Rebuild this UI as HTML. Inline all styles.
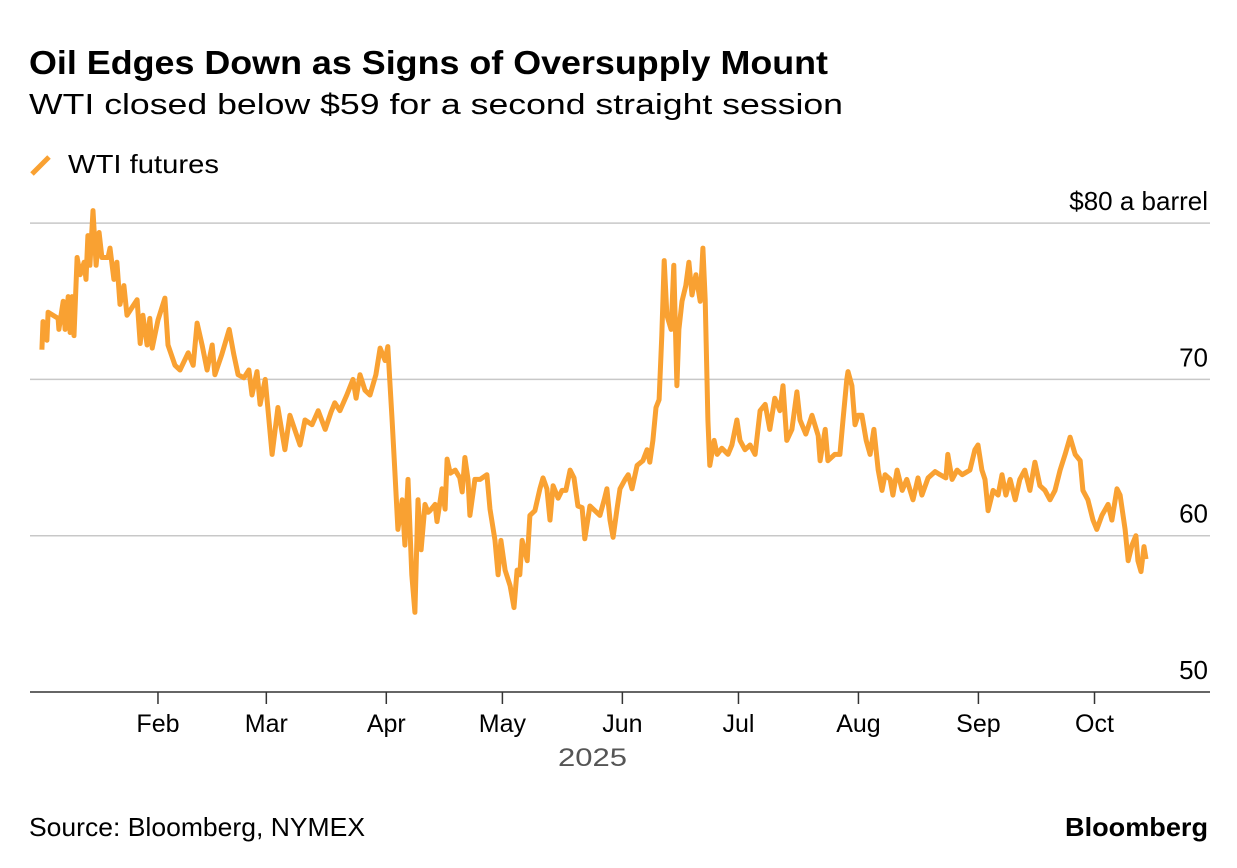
<!DOCTYPE html>
<html><head><meta charset="utf-8"><style>
html,body{margin:0;padding:0;background:#fff;}
svg{display:block;font-family:"Liberation Sans",Arial,sans-serif;}
</style></head><body>
<svg id="chart" width="1237" height="868" viewBox="0 0 1237 868">
<text x="29" y="74" font-size="33" font-weight="bold" fill="#000" textLength="799" lengthAdjust="spacingAndGlyphs">Oil Edges Down as Signs of Oversupply Mount</text>
<text x="29" y="114" font-size="29" fill="#000" textLength="814" lengthAdjust="spacingAndGlyphs">WTI closed below $59 for a second straight session</text>
<g>
<line x1="32" y1="174" x2="49" y2="157" stroke="#F9A132" stroke-width="5"/>
<text x="68" y="173" font-size="26" fill="#000" textLength="151" lengthAdjust="spacingAndGlyphs">WTI futures</text>
</g>
<g id="grid"></g>
<g id="yt"></g>
<g id="xt"></g>
<text x="558" y="766" font-size="25" fill="#555" textLength="69" lengthAdjust="spacingAndGlyphs">2025</text>
<path id="line" fill="none" stroke="#F9A132" stroke-width="5" stroke-linejoin="round"/>
<text x="29" y="836" font-size="26" fill="#000" textLength="336" lengthAdjust="spacingAndGlyphs">Source: Bloomberg, NYMEX</text>
<text x="1065" y="836" font-size="26" font-weight="bold" fill="#000" textLength="143" lengthAdjust="spacingAndGlyphs">Bloomberg</text>
</svg>
<script>
const days=[1.0,1.3,2.3,2.6,5.2,5.4,6.5,7.0,7.8,8.3,8.8,9.3,10.1,10.9,11.9,12.4,12.9,13.4,14.2,15.0,15.8,16.5,18.1,18.6,19.6,20.4,21.2,22.2,23.0,24.3,25.6,26.4,27.1,28.2,28.9,29.5,31.0,32.8,33.6,35.4,36.7,38.8,40.1,41.1,42.4,43.7,45.0,45.7,47.5,49.4,50.6,51.7,53.2,54.5,55.3,56.6,57.4,58.7,60.5,62.0,63.8,65.1,67.7,69.0,70.8,72.4,74.2,75.7,76.7,78.0,79.8,81.4,82.2,83.2,84.5,85.8,87.3,88.4,89.7,90.4,91.5,92.2,93.0,94.1,94.8,95.6,96.6,97.4,98.2,99.0,100.0,100.8,101.3,102.6,103.1,104.4,105.2,105.7,106.5,107.8,109.0,109.6,110.3,111.1,111.6,112.9,114.2,116.0,116.8,118.1,118.9,119.6,120.7,122.0,123.0,123.8,124.5,125.1,126.4,127.1,128.4,129.7,130.5,131.5,132.3,133.1,134.4,135.4,136.4,137.5,138.5,139.5,140.6,141.3,142.6,143.9,145.2,146.3,147.0,147.8,148.6,149.6,150.4,151.7,152.5,153.5,154.8,156.3,157.4,158.1,158.9,159.7,160.5,161.2,161.8,162.5,163.6,164.3,165.1,165.6,166.4,167.4,168.2,169.0,170.0,171.1,171.8,172.4,173.1,173.6,174.7,175.5,176.7,178.3,179.3,180.6,181.4,182.7,184.0,185.3,186.6,187.9,189.1,190.4,191.7,192.5,193.5,194.8,196.1,196.9,198.4,200.0,201.6,202.1,203.4,204.1,205.9,207.2,208.0,209.0,209.3,210.3,211.1,211.9,212.9,214.0,215.0,216.0,217.1,218.1,218.9,220.2,220.9,222.0,223.3,224.5,226.1,227.4,228.4,230.0,231.8,233.1,234.6,235.1,236.2,237.5,238.8,240.8,242.1,242.9,243.9,244.7,245.5,246.8,248.1,249.1,250.1,251.2,252.5,253.7,255.0,256.3,257.6,258.9,260.2,261.5,262.8,264.1,265.4,266.7,268.0,269.3,270.0,271.3,272.6,273.6,274.9,276.5,277.5,278.8,279.6,280.9,281.7,282.7,283.7,284.2,285.0,285.8,286.3];
const prices=[71.9,73.7,72.5,74.3,73.9,73.2,75.0,73.2,75.3,73.0,75.3,72.8,77.8,76.7,77.5,76.4,79.2,77.3,80.8,77.3,79.4,77.8,77.8,78.4,76.4,77.5,74.8,76.0,74.1,74.6,75.1,72.3,74.1,72.2,73.9,72.0,73.8,75.2,72.2,70.9,70.6,71.7,70.9,73.6,72.2,70.6,72.2,70.3,71.6,73.2,71.6,70.3,70.1,70.6,69.0,70.5,68.4,70.0,65.2,68.2,65.5,67.7,65.8,67.4,67.1,68.0,66.8,67.9,68.5,68.0,69.0,70.0,68.8,70.3,69.3,69.0,70.3,72.0,71.2,72.1,67.4,64.2,60.4,62.3,59.4,63.6,57.5,55.1,62.3,59.1,62.0,61.5,61.6,62.0,60.9,63.0,61.7,64.9,64.0,64.2,63.7,62.8,65.0,63.6,61.3,63.6,63.6,63.9,61.7,59.7,57.5,59.7,57.8,56.8,55.4,57.8,57.5,59.7,58.4,61.3,61.6,63.0,63.7,63.0,61.0,63.2,62.4,62.9,62.9,64.2,63.7,61.9,61.8,59.8,61.9,61.6,61.3,62.3,63.0,61.0,59.9,61.7,63.0,63.6,63.9,63.0,64.5,64.8,65.5,64.7,66.1,68.2,68.7,72.8,77.6,74.1,73.2,77.3,69.6,73.2,75.0,76.0,77.5,75.4,76.7,75.0,78.4,75.1,67.4,64.5,66.1,65.2,65.6,65.2,65.8,67.4,66.1,65.5,65.8,65.2,68.0,68.4,66.8,68.8,68.0,69.6,66.1,66.8,69.2,67.4,66.5,67.7,66.4,64.8,66.8,64.8,65.2,65.2,67.4,70.0,70.5,69.6,67.1,67.7,67.7,66.1,65.2,66.8,64.2,62.9,63.9,63.6,62.6,64.2,62.9,63.6,62.3,63.7,62.6,63.7,64.1,63.9,63.7,65.2,63.6,64.2,63.9,64.2,65.5,65.8,64.2,63.6,61.6,62.9,62.6,63.9,62.6,63.6,62.3,63.6,64.2,62.9,64.7,63.2,62.9,62.3,62.9,64.2,65.2,66.3,65.2,64.8,62.9,62.3,61.0,60.4,61.3,62.0,61.0,63.0,62.6,60.4,58.4,59.4,60.0,58.4,57.7,59.3,58.5];
const yTicks=[50,60,70,80];
const yTickLabels=["50","60","70","$80 a barrel"];
const monthLabels=["Feb","Mar","Apr","May","Jun","Jul","Aug","Sep","Oct"];
const monthStartDays=[31,59,90,120,151,181,212,243,273];

const NS="http://www.w3.org/2000/svg";
const X0=30,X1=1210;
function xScale(d){return 38+d*3.87;}
function yScale(v){return 692-(v-50)*15.63;}
function mk(tag,attrs,parent){const e=document.createElementNS(NS,tag);for(const k in attrs)e.setAttribute(k,attrs[k]);parent.appendChild(e);return e;}
const grid=document.getElementById('grid'),yt=document.getElementById('yt'),xt=document.getElementById('xt');
yTicks.forEach((v,i)=>{
  const y=yScale(v);
  const l=mk('line',{x1:X0,x2:X1,y1:y,y2:y,stroke:i===0?'#333':'#c8c8c8','stroke-width':1.5},grid);
  
  
  const t=mk('text',{x:1208,y:y-13,'font-size':26,'text-anchor':'end',fill:'#000'},yt);
  t.textContent=yTickLabels[i];
  
  
});
monthStartDays.forEach((d,i)=>{
  const x=xScale(d);
  const tk=mk('line',{x1:x,x2:x,y1:692,y2:704,stroke:'#333','stroke-width':1.5},xt);
  
  
  const t=mk('text',{x:x,y:732,'font-size':25,'text-anchor':'middle',fill:'#000'},xt);
  t.textContent=monthLabels[i];
  
  
});
let dstr='';
days.forEach((d,i)=>{dstr+=(i?'L':'M')+xScale(d).toFixed(1)+','+yScale(prices[i]).toFixed(1);});
document.getElementById('line').setAttribute('d',dstr);
</script>
</body></html>
